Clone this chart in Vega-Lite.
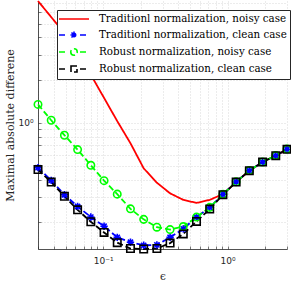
{
  "$schema": "https://vega.github.io/schema/vega-lite/v6.json",
  "width": 249,
  "height": 248,
  "autosize": {"type": "none"},
  "padding": {"left": 38, "top": 1, "right": 4, "bottom": 33},
  "background": "white",
  "config": {
    "view": {"stroke": null},
    "axis": {
      "domainColor": "#262626",
      "domainWidth": 0.8,
      "tickColor": "#262626",
      "tickSize": -3,
      "tickWidth": 0.6,
      "grid": true,
      "gridColor": "#c8c8c8",
      "gridDash": [1, 2],
      "gridWidth": 0.7,
      "labelFont": "DejaVu Sans",
      "labelFontSize": 9,
      "labelColor": "#262626",
      "titleFont": "DejaVu Serif",
      "titleFontWeight": "normal",
      "titleColor": "#262626"
    }
  },
  "data": {
    "values": [
      {"epsilon": 0.03, "value": 7.2, "series": "Traditionl normalization, noisy case"},
      {"epsilon": 0.0383, "value": 5.55, "series": "Traditionl normalization, noisy case"},
      {"epsilon": 0.0489, "value": 4.28, "series": "Traditionl normalization, noisy case"},
      {"epsilon": 0.0624, "value": 3.01, "series": "Traditionl normalization, noisy case"},
      {"epsilon": 0.0797, "value": 2.18, "series": "Traditionl normalization, noisy case"},
      {"epsilon": 0.1018, "value": 1.5, "series": "Traditionl normalization, noisy case"},
      {"epsilon": 0.1299, "value": 1.03, "series": "Traditionl normalization, noisy case"},
      {"epsilon": 0.1659, "value": 0.72, "series": "Traditionl normalization, noisy case"},
      {"epsilon": 0.2118, "value": 0.48, "series": "Traditionl normalization, noisy case"},
      {"epsilon": 0.2704, "value": 0.38, "series": "Traditionl normalization, noisy case"},
      {"epsilon": 0.3452, "value": 0.32, "series": "Traditionl normalization, noisy case"},
      {"epsilon": 0.4407, "value": 0.288, "series": "Traditionl normalization, noisy case"},
      {"epsilon": 0.5627, "value": 0.274, "series": "Traditionl normalization, noisy case"},
      {"epsilon": 0.7184, "value": 0.288, "series": "Traditionl normalization, noisy case"},
      {"epsilon": 0.9172, "value": 0.316, "series": "Traditionl normalization, noisy case"},
      {"epsilon": 1.171, "value": 0.384, "series": "Traditionl normalization, noisy case"},
      {"epsilon": 1.495, "value": 0.462, "series": "Traditionl normalization, noisy case"},
      {"epsilon": 1.909, "value": 0.531, "series": "Traditionl normalization, noisy case"},
      {"epsilon": 2.437, "value": 0.589, "series": "Traditionl normalization, noisy case"},
      {"epsilon": 3.0, "value": 0.653, "series": "Traditionl normalization, noisy case"},

      {"epsilon": 0.03, "value": 0.485, "series": "Traditionl normalization, clean case"},
      {"epsilon": 0.0383, "value": 0.395, "series": "Traditionl normalization, clean case"},
      {"epsilon": 0.0489, "value": 0.313, "series": "Traditionl normalization, clean case"},
      {"epsilon": 0.0624, "value": 0.259, "series": "Traditionl normalization, clean case"},
      {"epsilon": 0.0797, "value": 0.218, "series": "Traditionl normalization, clean case"},
      {"epsilon": 0.1018, "value": 0.188, "series": "Traditionl normalization, clean case"},
      {"epsilon": 0.1299, "value": 0.157, "series": "Traditionl normalization, clean case"},
      {"epsilon": 0.1659, "value": 0.145, "series": "Traditionl normalization, clean case"},
      {"epsilon": 0.2118, "value": 0.138, "series": "Traditionl normalization, clean case"},
      {"epsilon": 0.2704, "value": 0.139, "series": "Traditionl normalization, clean case"},
      {"epsilon": 0.3452, "value": 0.157, "series": "Traditionl normalization, clean case"},
      {"epsilon": 0.4407, "value": 0.18, "series": "Traditionl normalization, clean case"},
      {"epsilon": 0.5627, "value": 0.218, "series": "Traditionl normalization, clean case"},
      {"epsilon": 0.7184, "value": 0.255, "series": "Traditionl normalization, clean case"},
      {"epsilon": 0.9172, "value": 0.315, "series": "Traditionl normalization, clean case"},
      {"epsilon": 1.171, "value": 0.385, "series": "Traditionl normalization, clean case"},
      {"epsilon": 1.495, "value": 0.462, "series": "Traditionl normalization, clean case"},
      {"epsilon": 1.909, "value": 0.531, "series": "Traditionl normalization, clean case"},
      {"epsilon": 2.437, "value": 0.589, "series": "Traditionl normalization, clean case"},
      {"epsilon": 3.0, "value": 0.653, "series": "Traditionl normalization, clean case"},

      {"epsilon": 0.03, "value": 1.35, "series": "Robust normalization, noisy case"},
      {"epsilon": 0.0383, "value": 1.045, "series": "Robust normalization, noisy case"},
      {"epsilon": 0.0489, "value": 0.82, "series": "Robust normalization, noisy case"},
      {"epsilon": 0.0624, "value": 0.65, "series": "Robust normalization, noisy case"},
      {"epsilon": 0.0797, "value": 0.504, "series": "Robust normalization, noisy case"},
      {"epsilon": 0.1018, "value": 0.393, "series": "Robust normalization, noisy case"},
      {"epsilon": 0.1299, "value": 0.316, "series": "Robust normalization, noisy case"},
      {"epsilon": 0.1659, "value": 0.249, "series": "Robust normalization, noisy case"},
      {"epsilon": 0.2118, "value": 0.21, "series": "Robust normalization, noisy case"},
      {"epsilon": 0.2704, "value": 0.185, "series": "Robust normalization, noisy case"},
      {"epsilon": 0.3452, "value": 0.178, "series": "Robust normalization, noisy case"},
      {"epsilon": 0.4407, "value": 0.187, "series": "Robust normalization, noisy case"},
      {"epsilon": 0.5627, "value": 0.218, "series": "Robust normalization, noisy case"},
      {"epsilon": 0.7184, "value": 0.255, "series": "Robust normalization, noisy case"},
      {"epsilon": 0.9172, "value": 0.315, "series": "Robust normalization, noisy case"},
      {"epsilon": 1.171, "value": 0.386, "series": "Robust normalization, noisy case"},
      {"epsilon": 1.495, "value": 0.463, "series": "Robust normalization, noisy case"},
      {"epsilon": 1.909, "value": 0.532, "series": "Robust normalization, noisy case"},
      {"epsilon": 2.437, "value": 0.59, "series": "Robust normalization, noisy case"},
      {"epsilon": 3.0, "value": 0.655, "series": "Robust normalization, noisy case"},

      {"epsilon": 0.03, "value": 0.47, "series": "Robust normalization, clean case"},
      {"epsilon": 0.0383, "value": 0.384, "series": "Robust normalization, clean case"},
      {"epsilon": 0.0489, "value": 0.305, "series": "Robust normalization, clean case"},
      {"epsilon": 0.0624, "value": 0.245, "series": "Robust normalization, clean case"},
      {"epsilon": 0.0797, "value": 0.202, "series": "Robust normalization, clean case"},
      {"epsilon": 0.1018, "value": 0.17, "series": "Robust normalization, clean case"},
      {"epsilon": 0.1299, "value": 0.144, "series": "Robust normalization, clean case"},
      {"epsilon": 0.1659, "value": 0.131, "series": "Robust normalization, clean case"},
      {"epsilon": 0.2118, "value": 0.13, "series": "Robust normalization, clean case"},
      {"epsilon": 0.2704, "value": 0.131, "series": "Robust normalization, clean case"},
      {"epsilon": 0.3452, "value": 0.143, "series": "Robust normalization, clean case"},
      {"epsilon": 0.4407, "value": 0.166, "series": "Robust normalization, clean case"},
      {"epsilon": 0.5627, "value": 0.203, "series": "Robust normalization, clean case"},
      {"epsilon": 0.7184, "value": 0.248, "series": "Robust normalization, clean case"},
      {"epsilon": 0.9172, "value": 0.313, "series": "Robust normalization, clean case"},
      {"epsilon": 1.171, "value": 0.384, "series": "Robust normalization, clean case"},
      {"epsilon": 1.495, "value": 0.462, "series": "Robust normalization, clean case"},
      {"epsilon": 1.909, "value": 0.531, "series": "Robust normalization, clean case"},
      {"epsilon": 2.437, "value": 0.589, "series": "Robust normalization, clean case"},
      {"epsilon": 3.0, "value": 0.653, "series": "Robust normalization, clean case"}
    ]
  },
  "encoding": {
    "x": {
      "field": "epsilon",
      "type": "quantitative",
      "scale": {"type": "log", "domain": [0.03, 3], "nice": false},
      "axis": {
        "title": "ϵ",
        "titleFontSize": 10.5,
        "titlePadding": 6,
        "values": [0.03, 0.04, 0.05, 0.06, 0.07, 0.08, 0.09, 0.1, 0.2, 0.3, 0.4, 0.5, 0.6, 0.7, 0.8, 0.9, 1, 2, 3],
        "labelExpr": "datum.value == 0.1 ? '10⁻¹' : (datum.value == 1 ? '10⁰' : '')",
        "labelPadding": 10,
        "labelFlush": false,
        "labelOverlap": false
      }
    },
    "y": {
      "field": "value",
      "type": "quantitative",
      "scale": {"type": "log", "domain": [0.13, 7.2], "nice": false},
      "axis": {
        "title": "Maximal absolute differene",
        "titleFontSize": 11,
        "titlePadding": 2,
        "values": [0.2, 0.3, 0.4, 0.5, 0.6, 0.7, 0.8, 0.9, 1, 2, 3, 4, 5, 6, 7],
        "labelExpr": "datum.value == 1 ? '10⁰' : ''",
        "labelPadding": 8,
        "labelOverlap": false
      }
    },
    "color": {
      "field": "series",
      "type": "nominal",
      "scale": {
        "domain": ["Traditionl normalization, noisy case", "Traditionl normalization, clean case", "Robust normalization, noisy case", "Robust normalization, clean case"],
        "range": ["#ff0000", "#0000ff", "#00ff00", "#000000"]
      },
      "legend": {
        "title": null,
        "orient": "none",
        "legendX": 19,
        "legendY": 9,
        "padding": 3,
        "fillColor": "white",
        "strokeColor": "#262626",
        "labelFont": "DejaVu Serif",
        "labelFontSize": 10.3,
        "labelColor": "black",
        "labelLimit": 400,
        "symbolSize": 100,
        "symbolOffset": 8,
        "labelOffset": 19,
        "rowPadding": 3,
        "symbolStrokeWidth": 1.6,
        "symbolFillColor": "transparent",
        "symbolDash": [1, 0],
        "encode": {
          "symbols": {
            "update": {
              "shape": {"signal": "datum.value == 'Traditionl normalization, noisy case' ? 'M-3,0H3' : (datum.value == 'Traditionl normalization, clean case' ? 'M-3,0H-1.2M1.2,0H3M-0.7,0H0.7M0,-0.7V0.7M-0.5,-0.5L0.5,0.5M-0.5,0.5L0.5,-0.5' : (datum.value == 'Robust normalization, noisy case' ? 'M-3,0H-1.2M1.2,0H3M-0.65,0A0.65,0.65 0 1,0 0.65,0A0.65,0.65 0 1,0 -0.65,0' : 'M-3,0H-1.2M1.2,0H3M-0.6,-0.6H0.6V0.6H-0.6Z'))"},
              "fill": {"value": "transparent"},
              "strokeDash": {"value": [1, 0]},
              "strokeWidth": {"value": 1.6},
              "opacity": {"value": 1}
            }
          }
        }
      }
    }
  },
  "layer": [
    {
      "mark": {"type": "line", "strokeWidth": 1.8},
      "encoding": {
        "strokeDash": {
          "field": "series",
          "type": "nominal",
          "scale": {
            "domain": ["Traditionl normalization, noisy case", "Traditionl normalization, clean case", "Robust normalization, noisy case", "Robust normalization, clean case"],
            "range": [[1, 0], [6, 3], [6, 3], [6, 3]]
          },
          "legend": null
        }
      }
    },
    {
      "transform": [{"filter": "datum.series != 'Traditionl normalization, noisy case'"}],
      "mark": {"type": "point", "filled": false, "strokeWidth": 1.6, "size": 55, "opacity": 1},
      "encoding": {
        "shape": {
          "field": "series",
          "type": "nominal",
          "scale": {
            "domain": ["Traditionl normalization, clean case", "Robust normalization, noisy case", "Robust normalization, clean case"],
            "range": ["M-1,0H1M0,-1V1M-0.7,-0.7L0.7,0.7M-0.7,0.7L0.7,-0.7", "circle", "square"]
          },
          "legend": null
        }
      }
    }
  ]
}
